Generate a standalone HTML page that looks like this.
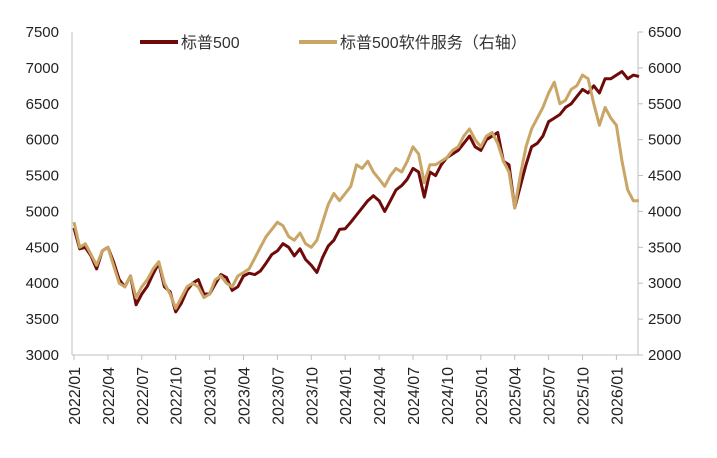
<!DOCTYPE html>
<html><head><meta charset="utf-8"><style>
html,body{margin:0;padding:0;background:#fff;}
svg{display:block;font-family:"Liberation Sans","Noto Sans CJK SC",sans-serif;}
</style></head><body>
<svg id="chart" width="717" height="458" viewBox="0 0 717 458"></svg>
<script>
const leftTicks=[3000,3500,4000,4500,5000,5500,6000,6500,7000,7500];
const rightTicks=[2000,2500,3000,3500,4000,4500,5000,5500,6000,6500];
const xLabels=["2022/01","2022/04","2022/07","2022/10","2023/01","2023/04","2023/07","2023/10","2024/01","2024/04","2024/07","2024/10","2025/01","2025/04","2025/07","2025/10","2026/01"];
const spx=[4770,4480,4500,4380,4200,4450,4500,4300,4050,3950,4100,3700,3850,3960,4130,4280,3950,3880,3600,3720,3900,4000,4050,3850,
3850,3990,4120,4080,3900,3950,4100,4140,4120,4170,4280,4400,4450,4550,4500,4380,4480,4330,4250,4150,4360,4520,4600,4750,
4760,4850,4950,5050,5150,5220,5150,5000,5150,5300,5360,5450,5600,5550,5200,5550,5500,5650,5750,5800,5850,5950,6050,5900,
5850,6000,6050,6100,5700,5650,5050,5350,5650,5900,5950,6050,6250,6300,6350,6450,6500,6600,6700,6650,6750,6650,6850,6850,
6900,6950,6850,6900,6880];
const soft=[3850,3500,3550,3400,3250,3450,3500,3250,3000,2950,3100,2800,2950,3050,3200,3300,3000,2850,2650,2800,2950,3000,2950,2800,
2850,3050,3100,3000,2950,3100,3150,3200,3350,3500,3650,3750,3850,3800,3650,3600,3700,3550,3500,3600,3850,4100,4250,4150,
4250,4350,4650,4600,4700,4550,4450,4350,4500,4600,4550,4700,4900,4800,4400,4650,4650,4700,4750,4850,4900,5050,5150,5000,
4900,5050,5100,4950,4700,4550,4050,4500,4900,5150,5300,5450,5650,5800,5500,5550,5700,5750,5900,5850,5500,5200,5450,5300,
5200,4700,4300,4150,4150];
const NS="http://www.w3.org/2000/svg";
const svg=document.getElementById('chart');
const X0=74,Q=33.9,Y0=355,Y1=32;
function xIdx(i){return X0+i*(Q/6);}
function yL(v){return Y0-(v-3000)/4500*(Y0-Y1);}
function yR(v){return Y0-(v-2000)/4500*(Y0-Y1);}
function el(t,a){const e=document.createElementNS(NS,t);for(const k in a)e.setAttribute(k,a[k]);svg.appendChild(e);return e;}
let ax=el('line',{x1:72,y1:Y1,x2:72,y2:Y0,stroke:'#bfbfbf','stroke-width':1});


ax=el('line',{x1:638,y1:Y1,x2:638,y2:Y0,stroke:'#bfbfbf','stroke-width':1});


ax=el('line',{x1:72,y1:Y0,x2:638,y2:Y0,stroke:'#bfbfbf','stroke-width':1});


leftTicks.forEach(v=>{
  const t=el('text',{x:59,y:yL(v)+5,'text-anchor':'end','font-size':15,fill:'#222'});
  t.textContent=v;
  
  
});
rightTicks.forEach(v=>{
  const k=el('line',{x1:638,y1:yR(v),x2:643,y2:yR(v),stroke:'#bfbfbf'});
  
  
  const t=el('text',{x:648,y:yR(v)+5,'font-size':15,fill:'#222'});
  t.textContent=v;
  
  
});
xLabels.forEach((s,i)=>{
  const x=X0+i*Q;
  const k=el('line',{x1:x,y1:Y0,x2:x,y2:Y0+5,stroke:'#bfbfbf'});
  
  
  const t=el('text',{x:0,y:0,'text-anchor':'end','font-size':16,fill:'#222',transform:`translate(${x+6},${Y0+12}) rotate(-90)`});
  t.textContent=s;
  
  
});
function pts(arr,f){return arr.map((v,i)=>xIdx(i).toFixed(1)+','+f(v).toFixed(1)).join(' ');}
const l1=el('polyline',{points:pts(spx,yL),fill:'none',stroke:'#6e0a0a','stroke-width':3,'stroke-linejoin':'round'});


const l2=el('polyline',{points:pts(soft,yR),fill:'none',stroke:'#c9a566','stroke-width':3,'stroke-linejoin':'round'});


let g=el('line',{x1:140,y1:42,x2:178,y2:42,stroke:'#6e0a0a','stroke-width':4});


g=el('text',{x:181,y:48,'font-size':16,fill:'#333'});g.textContent='标普500';


g=el('line',{x1:299,y1:42,x2:337,y2:42,stroke:'#c9a566','stroke-width':4});


g=el('text',{x:340,y:48,'font-size':16,fill:'#333'});g.textContent='标普500软件服务（右轴）';


</script>
</body></html>
